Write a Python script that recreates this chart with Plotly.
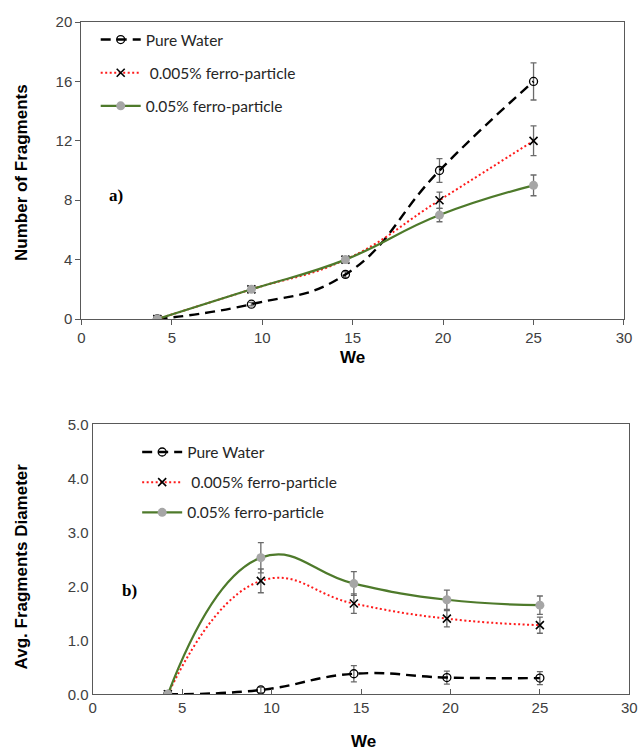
import plotly.graph_objects as go

# Weber numbers
we = [4.2, 9.4, 14.6, 19.8, 25.0]

# a) Number of fragments
frag_water = [0, 1, 3, 10, 16]
frag_water_err = [0, 0.12, 0.2, 0.8, 1.25]
frag_005 = [0, 2, 4, 8, 12]
frag_005_err = [0, 0.1, 0.2, 0.55, 1.0]
frag_05 = [0, 2, 4, 7, 9]
frag_05_err = [0, 0.1, 0.2, 0.45, 0.7]

# b) Average fragment diameter
diam_water = [0, 0.08, 0.38, 0.31, 0.30]
diam_water_err = [0, 0.05, 0.15, 0.12, 0.12]
diam_005 = [0, 2.1, 1.68, 1.40, 1.28]
diam_005_err = [0, 0.22, 0.18, 0.15, 0.15]
diam_05 = [0, 2.53, 2.05, 1.75, 1.65]
diam_05_err = [0, 0.28, 0.22, 0.18, 0.17]

names = ["Pure Water", "\u00a00.005% ferro-particle", "0.05% ferro-particle"]

GREEN = "#4e7a2b"
RED = "#ff1a1a"
GRAY_MK = "#a6a6a6"
ERR = "#6a6a6a"
AX = "#595959"
TICK = "#404040"

styles = [
    dict(line=dict(color="black", width=2.4, dash="10px,6px", shape="spline", smoothing=1.3),
         marker=dict(symbol="circle-open", size=8, color="black", line=dict(width=1.3))),
    dict(line=dict(color=RED, width=2, dash="2px,2.5px", shape="spline", smoothing=1.3),
         marker=dict(symbol="x-thin-open", size=8, color="black", line=dict(width=1.6, color="black"))),
    dict(line=dict(color=GREEN, width=2.2, shape="spline", smoothing=1.3),
         marker=dict(symbol="circle", size=9, color=GRAY_MK)),
]

fig = go.Figure()

series_a = [(frag_water, frag_water_err), (frag_005, frag_005_err), (frag_05, frag_05_err)]
series_b = [(diam_water, diam_water_err), (diam_005, diam_005_err), (diam_05, diam_05_err)]

for i, (y, e) in enumerate(series_a):
    fig.add_trace(go.Scatter(
        x=we, y=y, name=names[i], mode="lines+markers",
        error_y=dict(type="data", array=e, visible=True, color=ERR, thickness=1.3, width=3),
        xaxis="x", yaxis="y", legend="legend", legendgroup=f"a{i}",
        **styles[i]))

for i, (y, e) in enumerate(series_b):
    fig.add_trace(go.Scatter(
        x=we, y=y, name=names[i], mode="lines+markers",
        error_y=dict(type="data", array=e, visible=True, color=ERR, thickness=1.3, width=3),
        xaxis="x2", yaxis="y2", legend="legend2", legendgroup=f"b{i}",
        **styles[i]))

axis_common = dict(showgrid=False, zeroline=False, showline=True, mirror=True,
                   linecolor=AX, linewidth=1.3,
                   tickfont=dict(family="Liberation Sans, Arial", size=15, color=TICK))

legend_font = dict(family="Lato", size=15.5, color="#262626")

fig.update_layout(
    width=638, height=754,
    margin=dict(l=0, r=0, t=0, b=0, autoexpand=False),
    paper_bgcolor="white", plot_bgcolor="white",
    xaxis=dict(domain=[0.1276, 0.978], range=[0, 30], dtick=5, ticks="outside",
               ticklen=5, tickcolor=AX, anchor="y", **axis_common),
    yaxis=dict(domain=[0.5769, 0.9708], range=[0, 20], dtick=4, ticks="outside",
               ticklen=5, tickcolor=AX, anchor="x", **axis_common),
    xaxis2=dict(domain=[0.1453, 0.9864], range=[0, 30], dtick=5, ticks="inside",
                ticklen=5, tickcolor=AX, anchor="y2", **axis_common),
    yaxis2=dict(domain=[0.0792, 0.4373], range=[0, 5], dtick=1, tickformat=".1f",
                ticks="", anchor="x2", **axis_common),
    legend=dict(x=0.150, y=0.9695, xanchor="left", yanchor="top", font=legend_font,
                bgcolor="rgba(0,0,0,0)", tracegroupgap=10, itemwidth=40),
    legend2=dict(x=0.215, y=0.4225, xanchor="left", yanchor="top", font=legend_font,
                 bgcolor="rgba(0,0,0,0)", tracegroupgap=7, itemwidth=40),
    showlegend=True,
)

title_font = dict(family="Liberation Sans, Arial", size=17, color="black")
centered = dict(xref="paper", yref="paper", xanchor="center", yanchor="middle",
                showarrow=False, font=title_font)
fig.add_annotation(text="<b>Number of Fragments</b>", x=0.0345, y=0.7706,
                   textangle=-90, **centered)
fig.add_annotation(text="<b>Avg. Fragments Diameter</b>", x=0.0335, y=0.2493,
                   textangle=-90, **centered)
fig.add_annotation(text="<b>We</b>", x=0.553, y=0.5265, **centered)
fig.add_annotation(text="<b>We</b>", x=0.569, y=0.0165, **centered)

panel_font = dict(family="Liberation Serif, Times New Roman", size=17, color="black")
fig.add_annotation(text="<b>a)</b>", xref="x", yref="y", x=1.9, y=8.35,
                   showarrow=False, font=panel_font)
fig.add_annotation(text="<b>b)</b>", xref="x2", yref="y2", x=2.03, y=1.93,
                   showarrow=False, font=panel_font)

fig.write_html("out.html")
